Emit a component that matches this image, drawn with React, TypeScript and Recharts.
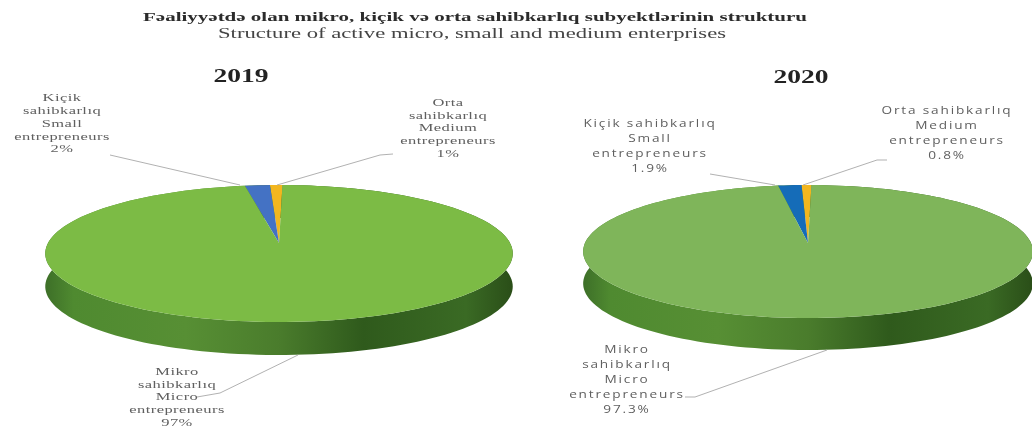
import React from "react";
import { PieChart, Pie, Cell } from "recharts";

// ── Data ─────────────────────────────────────────────────

const SEGMENTS = ["Orta", "Kiçik", "Mikro"];
const VALUES_2019 = [1, 2, 97];
const VALUES_2020 = [0.8, 1.9, 97.3];

const LABELS_2019 = [
  ["Orta", "sahibkarlıq", "Medium", "entrepreneurs", "1%"],
  ["Kiçik", "sahibkarlıq", "Small", "entrepreneurs", "2%"],
  ["Mikro", "sahibkarlıq", "Micro", "entrepreneurs", "97%"],
];
const LABELS_2020 = [
  ["Orta sahibkarlıq", "Medium", "entrepreneurs", "0.8%"],
  ["Kiçik sahibkarlıq", "Small", "entrepreneurs", "1.9%"],
  ["Mikro", "sahibkarlıq", "Micro", "entrepreneurs", "97.3%"],
];

const TITLE_AZ = "Fəaliyyətdə olan mikro, kiçik və orta sahibkarlıq subyektlərinin strukturu";
const TITLE_EN = "Structure of active micro, small and medium enterprises";

// ── Layout and styles ────────────────────────────────────

const SERIF = "'Liberation Serif', serif";
const SANS = "'Open Sans', sans-serif";

const COLORS_2019 = ["#f2b61f", "#4472c4", "#7cbb45"];
const COLORS_2020 = ["#f2b61f", "#156cb8", "#7fb55a"];

const LAYOUT_2019 = {
  cx: 279, cy: 243, rx: 231, ry: 66.9, persp: 0.153, depth: 33,
  font: SERIF, size: 11, spacing: 0.3, stretch: 1.5, step: 12.7, grad: "wall19",
  text: [
    { x: 448, y: 106 },
    { x: 62, y: 101.5 },
    { x: 177, y: 375 },
  ],
  leaders: [
    "393,154 380,155 277,185",
    "110,155 240,185",
    "298,355 220,393 197,397",
  ],
};

const LAYOUT_2020 = {
  cx: 808, cy: 243, rx: 223, ry: 65.4, persp: 0.128, depth: 32,
  font: SANS, size: 10.5, spacing: 1.4, stretch: 1.3, step: 15, grad: "wall20",
  text: [
    { x: 947, y: 114 },
    { x: 650, y: 127 },
    { x: 627, y: 353 },
  ],
  leaders: [
    "887,160 877,160 803,185",
    "710,174 775,185",
    "827,350 695,397 685,397",
  ],
};

// ── Tilted pie: disc points go through a small perspective ──

function arcPoints(p: any, l: any, dy = 0) {
  const pts: string[] = [];
  const n = Math.max(4, Math.ceil(Math.abs(p.endAngle - p.startAngle) / 2));
  for (let i = 0; i <= n; i++) {
    const a = ((p.startAngle + ((p.endAngle - p.startAngle) * i) / n) * Math.PI) / 180;
    const u = Math.cos(a);
    const v = Math.sin(a);
    const w = 1 + l.persp * v;
    pts.push(`${p.cx + (l.rx * u) / w},${p.cy - (l.ry * v) / w + dy}`);
  }
  return pts;
}

const faceShape = (l: any) => (p: any) => (
  <path d={`M${p.cx},${p.cy}L${arcPoints(p, l).join("L")}Z`} fill={p.fill} stroke="none" />
);

const wallShape = (l: any) => (p: any) => {
  const top = arcPoints(p, l);
  const bottom = arcPoints(p, l, l.depth).reverse();
  return <path d={`M${top.concat(bottom).join("L")}Z`} fill={`url(#${l.grad})`} stroke="none" />;
};

const sliceLabel = (l: any, lines: string[][]) => (p: any) => {
  const pos = l.text[p.index];
  return (
    <g key={p.index}>
      <polyline points={l.leaders[p.index]} fill="none" stroke="#a8a8a8" strokeWidth={0.9} />
      <g transform={`translate(${pos.x},0) scale(${l.stretch},1)`}>
        <text
          x={0}
          y={pos.y}
          textAnchor="middle"
          fill="#5f5f5f"
          fontFamily={l.font}
          fontSize={l.size}
          style={{ letterSpacing: l.spacing }}
        >
          {lines[p.index].map((t, i) => (
            <tspan key={i} x={0} y={pos.y + i * l.step}>
              {t}
            </tspan>
          ))}
        </text>
      </g>
    </g>
  );
};

function wallStops(id: string) {
  return (
    <linearGradient id={id} x1="0" y1="0" x2="1" y2="0">
      <stop offset="0%" stopColor="#3d6f28" />
      <stop offset="6%" stopColor="#4f8a30" />
      <stop offset="30%" stopColor="#578f34" />
      <stop offset="50%" stopColor="#4a7c2c" />
      <stop offset="68%" stopColor="#2f5a1c" />
      <stop offset="90%" stopColor="#3a6a24" />
      <stop offset="100%" stopColor="#2a4e18" />
    </linearGradient>
  );
}

function rows(values: number[]) {
  return SEGMENTS.map((name, i) => ({ name, value: values[i] }));
}

export default function App() {
  const pies = [
    { values: VALUES_2019, colors: COLORS_2019, lines: LABELS_2019, l: LAYOUT_2019, key: "a" },
    { values: VALUES_2020, colors: COLORS_2020, lines: LABELS_2020, l: LAYOUT_2020, key: "b" },
  ];

  return (
    <div style={{ position: "absolute", left: 0, top: 0, width: 1032, height: 428, background: "#fff", overflow: "hidden", filter: "blur(0.4px)" }}>
      <style>{`body{margin:0}`}</style>
      <PieChart width={1032} height={428} margin={{ top: 0, right: 0, bottom: 0, left: 0 }}>
        <defs>
          {wallStops("wall19")}
          {wallStops("wall20")}
        </defs>
        {pies.map((d) => (
          <Pie
            key={d.key + "wall"}
            data={rows(d.values)}
            dataKey="value"
            nameKey="name"
            cx={d.l.cx}
            cy={d.l.cy}
            outerRadius={d.l.rx}
            startAngle={89}
            endAngle={449}
            stroke="none"
            shape={wallShape(d.l)}
            isAnimationActive={false}
          />
        ))}
        {pies.map((d) => (
          <Pie
            key={d.key + "face"}
            data={rows(d.values)}
            dataKey="value"
            nameKey="name"
            cx={d.l.cx}
            cy={d.l.cy}
            outerRadius={d.l.rx}
            startAngle={89}
            endAngle={449}
            stroke="none"
            shape={faceShape(d.l)}
            label={sliceLabel(d.l, d.lines)}
            labelLine={false}
            isAnimationActive={false}
          >
            {d.values.map((_, i) => (
              <Cell key={i} fill={d.colors[i]} />
            ))}
          </Pie>
        ))}
        <text x={475} y={21} textAnchor="middle" fontFamily={SERIF} fontSize={13} fontWeight="bold" fill="#2b2b2b" textLength={664} lengthAdjust="spacingAndGlyphs">
          {TITLE_AZ}
        </text>
        <text x={472} y={38} textAnchor="middle" fontFamily={SERIF} fontSize={14} fill="#444" textLength={508} lengthAdjust="spacingAndGlyphs">
          {TITLE_EN}
        </text>
        <text x={241} y={82} textAnchor="middle" fontFamily={SERIF} fontSize={18} fontWeight="bold" fill="#222" textLength={55} lengthAdjust="spacingAndGlyphs">
          2019
        </text>
        <text x={801} y={83} textAnchor="middle" fontFamily={SERIF} fontSize={18} fontWeight="bold" fill="#222" textLength={55} lengthAdjust="spacingAndGlyphs">
          2020
        </text>
      </PieChart>
    </div>
  );
}
